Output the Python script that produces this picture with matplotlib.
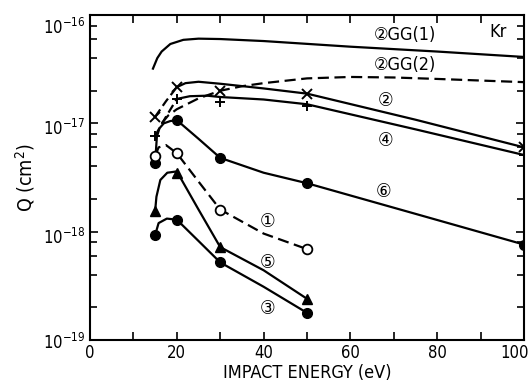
import matplotlib
matplotlib.use("Agg")
import matplotlib.pyplot as plt
import matplotlib.transforms as mtrans
from matplotlib.ticker import MultipleLocator, LogLocator, NullFormatter

plt.rcParams['font.family'] = ['DejaVu Sans']
plt.rcParams['font.stretch'] = 'condensed'

# curve (2) GG(1), no markers
gg1_x = [14.5, 15.5, 16.5, 18.5, 21.5, 25, 30, 40, 60, 80, 100]
gg1_q = [3.2e-17, 4.0e-17, 4.6e-17, 5.4e-17, 5.9e-17, 6.05e-17, 6.0e-17, 5.75e-17, 5.1e-17, 4.6e-17, 4.1e-17]

# curve (2) GG(2), dashed, no markers
gg2_x = [16.5, 18, 20, 25, 30, 35, 40, 50, 60, 70, 80, 100]
gg2_q = [1.0e-17, 1.18e-17, 1.35e-17, 1.7e-17, 2.0e-17, 2.2e-17, 2.35e-17, 2.6e-17, 2.68e-17, 2.65e-17, 2.57e-17, 2.4e-17]

# curve (2), x markers
c2_dash_x = [15, 17.5, 20]
c2_dash_q = [1.15e-17, 1.6e-17, 2.16e-17]
c2_x = [20, 22, 25, 30, 40, 50, 75, 100]
c2_q = [2.16e-17, 2.35e-17, 2.42e-17, 2.32e-17, 2.1e-17, 1.88e-17, 1.08e-17, 6.0e-18]
c2_px = [15, 20, 30, 50, 100]
c2_pq = [1.15e-17, 2.16e-17, 2.0e-17, 1.86e-17, 6.0e-18]

# curve (4), + markers
c4_dash_x = [15, 17.5, 20]
c4_dash_q = [7.7e-18, 1.15e-17, 1.68e-17]
c4_x = [20, 23, 27, 30, 40, 50, 75, 100]
c4_q = [1.68e-17, 1.78e-17, 1.8e-17, 1.75e-17, 1.66e-17, 1.5e-17, 8.8e-18, 5.1e-18]
c4_px = [15, 20, 30, 50, 100]
c4_pq = [7.7e-18, 1.68e-17, 1.58e-17, 1.45e-17, 5.1e-18]

# curve (6), filled circles
c6_x = [15, 15.4, 16, 17, 18.5, 20, 25, 30, 40, 50, 75, 100]
c6_q = [4.3e-18, 7.5e-18, 9.0e-18, 1.0e-17, 1.05e-17, 1.07e-17, 7.2e-18, 4.8e-18, 3.5e-18, 2.8e-18, 1.46e-18, 7.6e-19]
c6_px = [15, 20, 30, 50, 100]
c6_pq = [4.3e-18, 1.07e-17, 4.8e-18, 2.8e-18, 7.6e-19]

# curve (1), open circles, dashed
c1_x = [15, 15.8, 17.5, 20, 25, 30, 40, 50]
c1_q = [5.0e-18, 6.0e-18, 6.3e-18, 5.3e-18, 2.9e-18, 1.6e-18, 9.6e-19, 6.9e-19]
c1_px = [15, 20, 30, 50]
c1_pq = [5.0e-18, 5.3e-18, 1.6e-18, 6.9e-19]

# curve (5), triangles
c5_x = [15, 15.3, 16.2, 17.8, 20, 25, 30, 40, 50]
c5_q = [1.55e-18, 2.1e-18, 3.0e-18, 3.5e-18, 3.6e-18, 1.6e-18, 7.2e-19, 4.4e-19, 2.4e-19]
c5_px = [15, 20, 30, 50]
c5_pq = [1.55e-18, 3.5e-18, 7.2e-19, 2.4e-19]

# curve (3), filled circles
c3_x = [15, 15.8, 17.7, 20, 25, 30, 40, 50]
c3_q = [9.3e-19, 1.2e-18, 1.32e-18, 1.29e-18, 8.2e-19, 5.2e-19, 3.1e-19, 1.78e-19]
c3_px = [15, 20, 30, 50]
c3_pq = [9.3e-19, 1.29e-18, 5.2e-19, 1.78e-19]

yticks = [1e-19, 1e-18, 1e-17, 1e-16]

fig = plt.figure(figsize=(5.28, 3.83), dpi=100)
ax = fig.add_axes([0.1705, 0.1123, 0.822, 0.8485])

lw = 1.6
dash = (5, 2.5)
ax.plot(gg1_x, gg1_q, color='k', lw=lw)
ax.plot(gg2_x, gg2_q, color='k', lw=lw, dashes=dash)

ax.plot(c2_dash_x, c2_dash_q, color='k', lw=lw, dashes=(4, 2))
ax.plot(c2_x, c2_q, color='k', lw=lw)
ax.plot(c2_px, c2_pq, 'x', color='k', ms=7, mew=1.4)

ax.plot(c4_dash_x, c4_dash_q, color='k', lw=lw, dashes=(4, 2))
ax.plot(c4_x, c4_q, color='k', lw=lw)
ax.plot(c4_px, c4_pq, '+', color='k', ms=7, mew=1.4)

ax.plot(c6_x, c6_q, color='k', lw=lw)
ax.plot(c6_px, c6_pq, 'o', color='k', ms=7)

ax.plot(c1_x, c1_q, color='k', lw=lw, dashes=dash)
ax.plot(c1_px, c1_pq, 'o', mfc='white', mec='k', ms=7, mew=1.3)

ax.plot(c5_x, c5_q, color='k', lw=lw)
ax.plot(c5_px, c5_pq, '^', color='k', ms=7)

ax.plot(c3_x, c3_q, color='k', lw=lw)
ax.plot(c3_px, c3_pq, 'o', color='k', ms=7)

ax.set_yscale('log')
ax.set_xlim(0, 100)
ax.set_ylim(1e-19, 1e-16)
ax.xaxis.set_major_locator(MultipleLocator(20))
ax.xaxis.set_minor_locator(MultipleLocator(10))
ax.set_yticks(yticks)
ax.yaxis.set_minor_locator(LogLocator(base=10, subs=[2, 4, 6, 8]))
ax.yaxis.set_minor_formatter(NullFormatter())
ax.tick_params(which='both', direction='in', top=True, right=True, width=1.2, labelsize=12)
ax.tick_params(which='major', length=6)
ax.tick_params(which='minor', length=6)
ax.tick_params(axis='y', which='minor', length=5)
ax.tick_params(axis='x', pad=3)
for s in ax.spines.values():
    s.set_linewidth(1.5)

ax.set_xlabel('IMPACT ENERGY (eV)', fontsize=13, labelpad=1)
ax.set_ylabel('Q (cm$^2$)', fontsize=14, labelpad=4)

fs = 13
ax.text(65.4, 6.5e-17, '②GG(1)', fontsize=fs, va='center')
ax.text(65.4, 3.45e-17, '②GG(2)', fontsize=fs, va='center')
ax.text(92.0, 6.9e-17, 'Kr', fontsize=fs, va='center')
ax.text(68.1, 1.64e-17, '②', fontsize=fs + 1, va='center', ha='center')
ax.text(68.1, 7.0e-18, '④', fontsize=fs + 1, va='center', ha='center')
ax.text(67.7, 2.33e-18, '⑥', fontsize=fs + 1, va='center', ha='center')
ax.text(40.8, 1.23e-18, '①', fontsize=fs + 1, va='center', ha='center')
ax.text(40.8, 5.2e-19, '⑤', fontsize=fs + 1, va='center', ha='center')
ax.text(40.8, 1.97e-19, '③', fontsize=fs + 1, va='center', ha='center')

# nudge tick labels the way they sit in the original figure
fig.canvas.draw()
ydown = {1e-16: 11, 1e-17: 4, 1e-18: 4, 1e-19: 1}
for t in ax.yaxis.get_major_ticks():
    loc = t.get_loc()
    for key, px in ydown.items():
        if abs(loc / key - 1) < 1e-3:
            sh = mtrans.ScaledTranslation(0, -px / 100, fig.dpi_scale_trans)
            t.label1.set_transform(t.label1.get_transform() + sh)
for t in ax.xaxis.get_major_ticks():
    if abs(t.get_loc() - 100) < 1e-6:
        sh = mtrans.ScaledTranslation(-9 / 100, 0, fig.dpi_scale_trans)
        t.label1.set_transform(t.label1.get_transform() + sh)

fig.savefig('out.png', dpi=100)
